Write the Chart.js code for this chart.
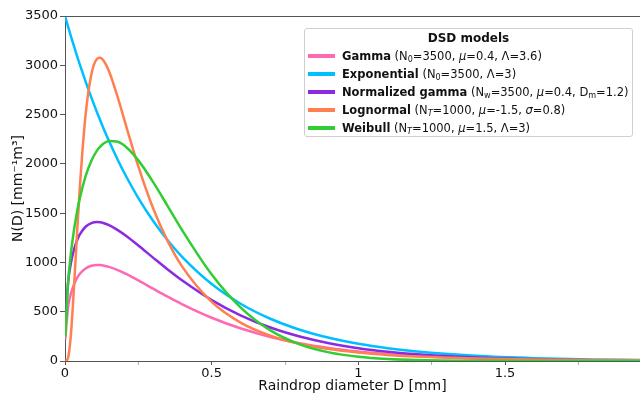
<!DOCTYPE html>
<html>
<head>
<meta charset="utf-8">
<title>DSD models</title>
<script src="https://cdn.jsdelivr.net/npm/chart.js@4"></script>
<style>
  html, body {
    margin: 0;
    padding: 0;
    background: #fff;
  }
  #wrap {
    position: relative;
    width: 640px;
    height: 397px;
    font-family: "DejaVu Sans", sans-serif;
  }
  #dsdChart {
    display: block;
  }
  .legend {
    position: absolute;
    left: 304px;
    top: 28px;
    width: 329px;
    height: 109px;
    box-sizing: border-box;
    border: 1px solid #cfcfcf;
    border-radius: 3px;
    background: rgba(255, 255, 255, 0.85);
    color: #111;
    font-size: 11.5px;
  }
  .legend-title {
    position: absolute;
    left: 0;
    right: 0;
    top: 0;
    height: 18px;
    line-height: 18px;
    text-align: center;
    font-weight: bold;
    font-size: 12px;
  }
  .legend-row {
    position: absolute;
    left: 0;
    height: 18px;
    line-height: 18px;
    white-space: nowrap;
  }
  .legend-row .swatch {
    position: absolute;
    left: 3px;
    top: 7px;
    width: 27px;
    height: 4px;
  }
  .legend-row .label {
    position: absolute;
    left: 37px;
    top: 0;
  }
  .legend sub {
    font-size: 70%;
    vertical-align: -0.3em;
    line-height: 0;
  }
</style>
</head>
<body>
<div id="wrap">
  <canvas id="dsdChart" width="640" height="397"></canvas>
  <div class="legend" id="legend">
    <div class="legend-title">DSD models</div>
  </div>
</div>
<script>
// Raindrop diameters D [mm]
const diameters = [
  0.001, 0.01, 0.02, 0.03, 0.04, 0.05, 0.07, 0.09, 0.11, 0.12,
  0.13, 0.15, 0.18, 0.21, 0.25, 0.3, 0.35, 0.4, 0.5, 0.6,
  0.7, 0.8, 0.9, 1.0, 1.1, 1.2, 1.4, 1.6, 1.8, 1.96,
];

// N(D) [mm^-1 m^-3] for each model
const gammaN = [
  220.1, 535.1, 681.1, 772.8, 836.3, 882.0, 938.9, 966.2, 974.2, 973.0,
  969.2, 955.0, 922.0, 880.3, 817.3, 734.3, 652.3, 574.8, 438.5, 329.1,
  244.2, 179.7, 131.4, 95.6, 69.3, 50.1, 25.9, 13.3, 6.8, 3.9,
];
const exponentialN = [
  3489.5, 3396.6, 3296.2, 3198.8, 3104.2, 3012.5, 2837.0, 2671.8, 2516.2, 2441.9,
  2369.7, 2231.7, 2039.6, 1864.1, 1653.3, 1423.0, 1224.8, 1054.2, 781.0, 578.6,
  428.6, 317.5, 235.2, 174.3, 129.1, 95.6, 52.5, 28.8, 15.8, 9.8,
];
const normGammaN = [
  320.7, 779.3, 991.2, 1123.9, 1215.5, 1281.1, 1361.9, 1399.6, 1409.3, 1406.7,
  1400.2, 1377.8, 1327.5, 1265.0, 1171.3, 1048.9, 928.7, 815.6, 618.0, 460.7,
  339.5, 248.3, 180.3, 130.4, 93.9, 67.4, 34.4, 17.4, 8.8, 5.1,
];
const lognormalN = [
  0.0, 26.7, 264.7, 715.5, 1239.7, 1736.6, 2493.1, 2910.0, 3066.8, 3076.6,
  3053.9, 2939.2, 2672.3, 2367.8, 1974.7, 1552.3, 1216.1, 955.3, 599.7, 387.0,
  256.6, 174.4, 121.2, 86.0, 62.1, 45.5, 25.5, 15.0, 9.2, 6.4,
];
const weibullN = [
  246.4, 775.4, 1086.2, 1314.0, 1495.4, 1644.5, 1873.0, 2032.2, 2138.7, 2175.5,
  2202.8, 2232.1, 2223.7, 2166.3, 2035.5, 1817.6, 1572.2, 1324.1, 877.9, 539.6,
  311.0, 169.3, 87.5, 43.2, 20.4, 9.2, 1.7, 0.3, 0.0, 0.0,
];

const yTicks = [0, 500, 1000, 1500, 2000, 2500, 3000, 3500];
const xMajorTicks = [0, 0.5, 1, 1.5];

const models = [
  {
    name: "Gamma",
    params: "(N<sub>0</sub>=3500, <i>μ</i>=0.4, Λ=3.6)",
    color: "#ff69b4",
    values: gammaN,
  },
  {
    name: "Exponential",
    params: "(N<sub>0</sub>=3500, Λ=3)",
    color: "#00bfff",
    values: exponentialN,
  },
  {
    name: "Normalized gamma",
    params: "(N<sub>w</sub>=3500, <i>μ</i>=0.4, D<sub>m</sub>=1.2)",
    color: "#8a2be2",
    values: normGammaN,
  },
  {
    name: "Lognormal",
    params: "(N<sub><i>T</i></sub>=1000, <i>μ</i>=-1.5, <i>σ</i>=0.8)",
    color: "#ff7f50",
    values: lognormalN,
  },
  {
    name: "Weibull",
    params: "(N<sub><i>T</i></sub>=1000, <i>μ</i>=1.5, Λ=3)",
    color: "#32cd32",
    values: weibullN,
  },
];

function renderLegend() {
  const box = document.getElementById("legend");
  models.forEach((m, i) => {
    const row = document.createElement("div");
    row.className = "legend-row";
    row.style.top = 18 + i * 18 + "px";
    row.innerHTML =
      '<span class="swatch" style="background:' + m.color + '"></span>' +
      '<span class="label"><b>' + m.name + "</b> " + m.params + "</span>";
    box.appendChild(row);
  });
}

function createChart() {
  const ctx = document.getElementById("dsdChart");

  const datasets = models.map((m, i) => ({
    label: m.name,
    data: diameters.map((d, k) => ({ x: d, y: m.values[k] })),
    borderColor: m.color,
    backgroundColor: m.color,
    borderWidth: 2.5,
    pointRadius: 0,
    cubicInterpolationMode: "monotone",
    fill: false,
    // later models are drawn on top
    order: models.length - i,
  }));

  const axisColor = "#555";
  const font = { family: "DejaVu Sans", size: 13 };

  new Chart(ctx, {
    type: "line",
    data: { datasets },
    options: {
      responsive: false,
      animation: false,
      layout: { padding: { top: 16, left: 0, right: 0, bottom: 0 } },
      plugins: {
        legend: { display: false },
        tooltip: { enabled: false },
      },
      scales: {
        x: {
          type: "linear",
          min: 0,
          max: 1.96,
          afterBuildTicks: (scale) => {
            scale.ticks = [];
            for (let v = 0; v <= scale.max + 1e-9; v += 0.25) {
              scale.ticks.push({ value: Math.round(v * 100) / 100 });
            }
          },
          afterFit: (scale) => {
            scale.height = 36;
          },
          ticks: {
            color: "#111",
            font,
            padding: 1,
            maxRotation: 0,
            autoSkip: false,
            callback: (value) =>
              xMajorTicks.includes(value) ? String(value) : "",
          },
          grid: {
            drawOnChartArea: false,
            drawTicks: true,
            tickLength: 4,
            tickColor: (c) =>
              xMajorTicks.includes(c.tick && c.tick.value)
                ? axisColor
                : "rgba(80,80,80,0.45)",
          },
          border: { display: true, color: axisColor, width: 1 },
          title: {
            display: true,
            text: "Raindrop diameter D [mm]",
            color: "#111",
            font: { family: "DejaVu Sans", size: 14 },
            padding: { top: 0, bottom: 2 },
          },
        },
        y: {
          min: 0,
          max: 3500,
          afterBuildTicks: (scale) => {
            scale.ticks = yTicks.map((v) => ({ value: v }));
          },
          afterFit: (scale) => {
            scale.width = 65;
          },
          ticks: {
            color: "#111",
            font,
            padding: 2,
            callback: (value) => String(value),
          },
          grid: {
            drawOnChartArea: true,
            drawTicks: true,
            tickLength: 5,
            tickColor: axisColor,
            // only the top line is drawn, as the upper frame edge
            color: (c) =>
              c.tick && c.tick.value === 3500 ? axisColor : "rgba(0,0,0,0)",
          },
          border: { display: true, color: axisColor, width: 1 },
          title: {
            display: true,
            text: "N(D) [mm⁻¹m³]",
            color: "#111",
            font: { family: "DejaVu Sans", size: 14 },
            padding: { top: 10, bottom: 0 },
          },
        },
      },
    },
  });
}

renderLegend();
createChart();
</script>
</body>
</html>
